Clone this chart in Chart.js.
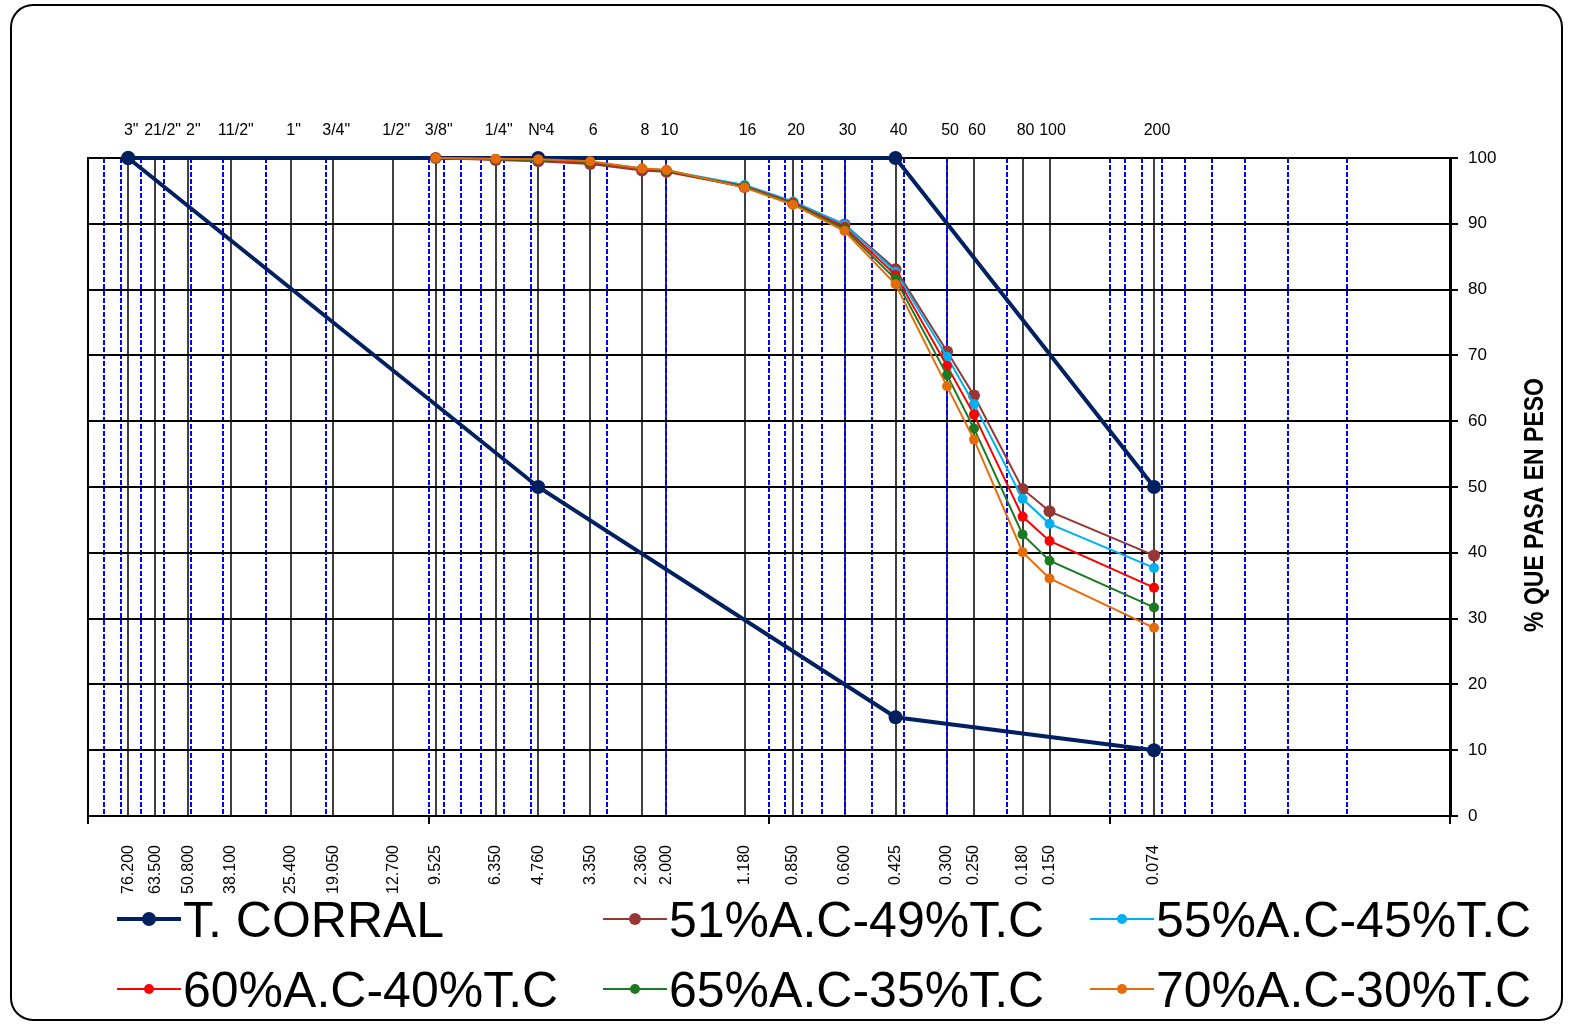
<!DOCTYPE html>
<html>
<head>
<meta charset="utf-8">
<script src="https://cdn.jsdelivr.net/npm/chart.js@4.4.1/dist/chart.umd.min.js"></script>
<style>
  html, body { margin: 0; padding: 0; background: #fff; }
  canvas { display: block; }
</style>
</head>
<body>
<canvas id="grafico" width="1573" height="1025"></canvas>
<script>
// tamices (abertura en mm) y su nombre
var tamices = [76.2, 63.5, 50.8, 38.1, 25.4, 19.05, 12.7, 9.525, 6.35, 4.76, 3.35, 2.36, 2.0, 1.18, 0.85, 0.6, 0.425, 0.3, 0.25, 0.18, 0.15, 0.074];
var nombresTamiz = ['3"', '  21/2"', ' 2"', ' 11/2"', '1"', '3/4"', '1/2"', '3/8"', '1/4"', 'Nº4', '6', '8', '10', '16', '20', '30', '40', '50', '60', '80', '100', '200'];

// lineas del papel logaritmico
var lineasLog = [90, 80, 70, 60, 50, 40, 30, 20, 10, 9, 8, 7, 6, 5, 4, 3, 2, 1,
                 0.9, 0.8, 0.7, 0.6, 0.5, 0.4, 0.3, 0.2, 0.1, 0.09, 0.08, 0.07, 0.06, 0.05, 0.04, 0.03, 0.02];
var decadas = [100, 10, 1, 0.1, 0.01];

// huso T. CORRAL
var corralAbertura = [76.2, 4.76, 0.425, 0.074];
var corralSuperior = [100, 100, 100, 50];
var corralInferior = [100, 50, 15, 10];

// mezclas
var aberturaMezcla = [9.525, 6.35, 4.76, 3.35, 2.36, 2.0, 1.18, 0.85, 0.6, 0.425, 0.3, 0.25, 0.18, 0.15, 0.074];
var mezcla51 = [100, 99.7, 99.5, 99.1, 98.1, 97.9, 95.6, 93.1, 89.9, 83.1, 70.6, 63.9, 49.7, 46.3, 39.6];
var mezcla55 = [100, 99.8, 99.6, 99.3, 98.3, 98.1, 95.9, 93.4, 89.9, 82.7, 69.8, 62.6, 48.2, 44.4, 37.7];
var mezcla60 = [100, 99.8, 99.6, 99.3, 98.3, 98.0, 95.7, 93.2, 89.5, 82.2, 68.4, 61.0, 45.5, 41.8, 34.7];
var mezcla65 = [100, 99.8, 99.7, 99.4, 98.4, 98.1, 95.6, 93.1, 89.2, 81.6, 67.0, 58.9, 42.8, 38.8, 31.7];
var mezcla70 = [100, 99.9, 99.8, 99.5, 98.4, 98.2, 95.5, 92.9, 88.9, 80.8, 65.3, 57.2, 40.1, 36.1, 28.6];

Chart.defaults.font.family = '"Liberation Sans", Arial, sans-serif';
Chart.defaults.color = '#000';

function serie(nombre, xs, ys, color, grosor, radio, orden) {
    return {
        label: nombre,
        data: xs.map(function(x, i) { return { x: x, y: ys[i] }; }),
        borderColor: color,
        backgroundColor: color,
        borderWidth: grosor,
        pointRadius: radio,
        pointHoverRadius: radio,
        pointBorderWidth: 0,
        tension: 0,
        order: orden,
        clip: false
    };
}

var datasets = [
    serie('T. CORRAL', corralAbertura, corralInferior, '#002060', 4, 7, 10),
    serie('T. CORRAL sup', corralAbertura, corralSuperior, '#002060', 4, 7, 11),
    serie('51%A.C-49%T.C', aberturaMezcla, mezcla51, '#953735', 2, 6, 6),
    serie('55%A.C-45%T.C', aberturaMezcla, mezcla55, '#00B0F0', 2, 5, 5),
    serie('60%A.C-40%T.C', aberturaMezcla, mezcla60, '#FF0000', 2, 5, 4),
    serie('65%A.C-35%T.C', aberturaMezcla, mezcla65, '#1A7A22', 2, 5, 3),
    serie('70%A.C-30%T.C', aberturaMezcla, mezcla70, '#E46C0A', 2, 5, 2)
];

function fijarTicks(valores) {
    return function(scale) {
        scale.ticks = valores.map(function(v) { return { value: v }; });
    };
}

var extras = {
    id: 'extras',
    beforeDraw: function(chart) {
        var ctx = chart.ctx;
        ctx.save();
        ctx.fillStyle = '#fff';
        ctx.fillRect(0, 0, chart.width, chart.height);
        // marco redondeado
        var x0 = 11, y0 = 5, x1 = 1562, y1 = 1020, r = 22;
        ctx.beginPath();
        ctx.moveTo(x0 + r, y0);
        ctx.arcTo(x1, y0, x1, y1, r);
        ctx.arcTo(x1, y1, x0, y1, r);
        ctx.arcTo(x0, y1, x0, y0, r);
        ctx.arcTo(x0, y0, x1, y0, r);
        ctx.closePath();
        ctx.lineWidth = 2;
        ctx.strokeStyle = '#000';
        ctx.stroke();
        ctx.restore();
    },
    beforeDatasetsDraw: function(chart) {
        var a = chart.chartArea, ctx = chart.ctx;
        ctx.save();
        ctx.lineWidth = 2;
        ctx.strokeStyle = '#000';
        ctx.strokeRect(a.left, a.top, a.right - a.left, a.bottom - a.top);
        ctx.restore();
    },
    afterDraw: function(chart) {
        var ctx = chart.ctx;
        ctx.save();
        // titulo eje Y
        ctx.translate(1535, 505);
        ctx.rotate(-Math.PI / 2);
        ctx.scale(1, 1.2);
        ctx.font = 'bold 23px "Liberation Sans", Arial';
        ctx.fillStyle = '#000';
        ctx.textAlign = 'center';
        ctx.textBaseline = 'middle';
        ctx.fillText('% QUE PASA EN PESO', 0, 0);
        ctx.restore();

        // leyenda
        var items = [0, 2, 3, 4, 5, 6];
        var cols = [117, 603, 1090];
        var filas = [919, 989];
        ctx.save();
        ctx.font = '50px "Liberation Sans", Arial';
        ctx.textBaseline = 'alphabetic';
        ctx.textAlign = 'left';
        items.forEach(function(idx, k) {
            var ds = chart.data.datasets[idx];
            var x = cols[k % 3], y = filas[Math.floor(k / 3)];
            ctx.strokeStyle = ds.borderColor;
            ctx.lineWidth = ds.borderWidth;
            ctx.beginPath();
            ctx.moveTo(x, y);
            ctx.lineTo(x + 64, y);
            ctx.stroke();
            ctx.fillStyle = ds.borderColor;
            ctx.beginPath();
            ctx.arc(x + 32, y, ds.pointRadius, 0, Math.PI * 2);
            ctx.fill();
            ctx.fillStyle = '#000';
            ctx.fillText(ds.label, x + 66, y + 18);
        });
        ctx.restore();
    }
};

var ctx = document.getElementById('grafico').getContext('2d');
var grafico = new Chart(ctx, {
    type: 'line',
    data: { datasets: datasets },
    plugins: [extras],
    options: {
        responsive: false,
        animation: false,
        devicePixelRatio: 1,
        layout: { padding: { left: 88, right: 0, top: 0, bottom: 0 } },
        plugins: { legend: { display: false }, tooltip: { enabled: false } },
        scales: {
            x: {
                type: 'logarithmic', position: 'bottom', reverse: true, min: 0.01, max: 100, weight: 10,
                afterBuildTicks: fijarTicks(tamices),
                afterFit: function(s) { s.height = 209; },
                ticks: {
                    autoSkip: false, minRotation: 90, maxRotation: 90, padding: 29,
                    font: { size: 16 },
                    callback: function(v) { return Number(v).toFixed(3); }
                },
                grid: { color: '#404040', lineWidth: 2, drawTicks: false },
                border: { display: true, color: '#000', width: 2 }
            },
            xLog: {
                type: 'logarithmic', position: 'bottom', reverse: true, min: 0.01, max: 100, weight: 0,
                afterBuildTicks: fijarTicks(lineasLog),
                afterFit: function(s) { s.height = 0; },
                ticks: { display: false, autoSkip: false },
                grid: { color: '#0000FF', lineWidth: 2, drawTicks: false },
                border: { display: false, dash: [5, 2] }
            },
            xDec: {
                type: 'logarithmic', position: 'bottom', reverse: true, min: 0.01, max: 100, weight: 1,
                afterBuildTicks: fijarTicks(decadas),
                afterFit: function(s) { s.height = 0; },
                ticks: { display: false, autoSkip: false },
                grid: { drawOnChartArea: false, drawTicks: true, tickLength: 8, color: '#000', lineWidth: 2 },
                border: { display: false }
            },
            xTop: {
                type: 'logarithmic', position: 'top', reverse: true, min: 0.01, max: 100,
                afterBuildTicks: fijarTicks(tamices),
                afterFit: function(s) { s.height = 158; },
                ticks: {
                    autoSkip: false, minRotation: 0, maxRotation: 0, padding: 18, labelOffset: 3,
                    font: { size: 16 },
                    callback: function(v, i) { return nombresTamiz[i]; }
                },
                grid: { display: false, drawTicks: false },
                border: { display: false }
            },
            y: {
                position: 'right', min: 0, max: 100,
                afterFit: function(s) { s.width = 123; },
                ticks: { stepSize: 10, padding: 10, font: { size: 17 } },
                grid: { color: '#000', lineWidth: 2, tickLength: 8 },
                border: { display: true, color: '#000', width: 3 }
            }
        }
    }
});
// lineas azules discontinuas
grafico.options.scales.xLog.grid.borderDash = [5, 2];
grafico.options.scales.xLog.border.dash = [5, 2];
grafico.update();
</script>
</body>
</html>
